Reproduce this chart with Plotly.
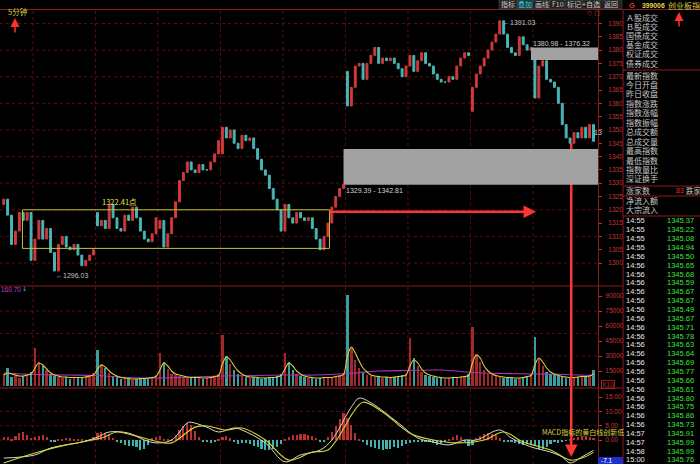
import plotly.graph_objects as go

W, H = 700, 464

# ---------------- data ----------------
# 5-minute index chart, shown here as 16 bars per trading day; first block is a partial day
day_opens = [1322, 1301, 1319, 1313, 1341, 1312, 1372, 1374, 1357, 1376.3]
day_closes = [
    [1324, 1318, 1307, 1312, 1319, 1316, 1319, 1301],
    [1309, 1316, 1309, 1313, 1304, 1297, 1307, 1310, 1306, 1305, 1307, 1303, 1299, 1301, 1303, 1305],
    [1314, 1316, 1313, 1322, 1317, 1313, 1312, 1318, 1316, 1321, 1317, 1312, 1309, 1308, 1311, 1317],
    [1316, 1306, 1311, 1317, 1323, 1331, 1334, 1338, 1335, 1334, 1337, 1335, 1335, 1338, 1341, 1346],
    [1351, 1347, 1350, 1345, 1343, 1348, 1346, 1347, 1343, 1339, 1335, 1333, 1328, 1324, 1320, 1312],
    [1322, 1317, 1315, 1319, 1317, 1316, 1317, 1313, 1309, 1305, 1310, 1315, 1321, 1325, 1328, 1329.4],
    [1359, 1366, 1374, 1375, 1369, 1375, 1378, 1381, 1375, 1377, 1376, 1377, 1375, 1373, 1370, 1374],
    [1378, 1372, 1376, 1379, 1375, 1374, 1371, 1369, 1368, 1368, 1370, 1369, 1374, 1377, 1379, 1378],
    [1366, 1371, 1374, 1377, 1380, 1383, 1386, 1391, 1386, 1381, 1379, 1378, 1385, 1382, 1380, 1381],
    [1362, 1374, 1376, 1369, 1368, 1366, 1360, 1352, 1347, 1345, 1349, 1347, 1351, 1347, 1352, 1345.76],
]
day_volumes = [
    [12000, 18000, 9000, 11000, 8000, 10000, 12000, 14000],
    [38000, 24000, 20000, 16000, 12000, 10000, 9000, 8000, 9000, 7000, 8000, 9000, 8000, 10000, 11000, 13000],
    [36000, 22000, 18000, 13000, 10000, 9000, 7000, 8000, 7000, 6000, 7000, 8000, 7000, 8000, 9000, 11000],
    [33000, 24000, 17000, 12000, 11000, 10000, 9000, 8000, 8000, 9000, 8000, 7000, 8000, 9000, 10000, 12000],
    [51000, 30000, 22000, 16000, 12000, 10000, 9000, 8000, 9000, 8000, 7000, 8000, 9000, 8000, 10000, 12000],
    [33000, 24000, 16000, 12000, 10000, 9000, 8000, 8000, 7000, 8000, 9000, 8000, 9000, 10000, 11000, 13000],
    [91000, 38000, 26000, 18000, 14000, 11000, 10000, 9000, 9000, 8000, 9000, 8000, 9000, 10000, 11000, 12000],
    [48000, 28000, 20000, 14000, 11000, 10000, 9000, 8000, 8000, 7000, 8000, 9000, 8000, 9000, 10000, 12000],
    [59000, 32000, 24000, 16000, 12000, 11000, 10000, 9000, 8000, 9000, 8000, 7000, 8000, 9000, 10000, 12000],
    [49000, 28000, 20000, 14000, 12000, 11000, 10000, 9000, 8000, 9000, 8000, 9000, 10000, 9000, 11000, 16000],
]
day_vol_ma_short = [
    [11000, 13000, 12000, 11000, 10000, 10000, 11000, 12000],
    [18000, 23000, 21000, 17000, 13000, 11000, 10000, 9000, 9000, 8500, 8500, 8500, 8500, 9000, 10000, 11000],
    [17000, 21000, 19000, 15000, 12000, 10000, 8500, 8000, 7500, 7000, 7000, 7500, 7500, 8000, 8500, 9500],
    [16000, 23000, 20000, 15000, 12000, 11000, 10000, 9000, 8500, 8500, 8500, 8000, 8000, 8500, 9500, 10500],
    [22000, 29000, 26000, 20000, 15000, 12000, 10000, 9000, 9000, 8500, 8000, 8000, 8500, 8500, 9000, 10500],
    [17000, 23000, 20000, 15000, 12000, 10000, 9000, 8500, 8000, 8000, 8500, 8500, 8500, 9500, 10000, 11500],
    [30000, 39000, 33000, 25000, 18000, 14000, 11000, 10000, 9500, 9000, 9000, 8500, 9000, 9500, 10000, 11000],
    [20000, 26000, 23000, 17000, 13000, 11000, 10000, 9000, 8500, 8000, 8000, 8500, 8500, 9000, 9500, 10500],
    [23000, 31000, 28000, 20000, 15000, 12000, 10500, 9500, 9000, 8500, 8500, 8000, 8000, 8500, 9500, 10500],
    [21000, 28000, 24000, 18000, 14000, 12000, 10500, 9500, 9000, 8500, 8500, 9000, 9500, 9500, 10000, 12000],
]
vol_ma_long_idx = [0, 8, 16, 24, 32, 40, 48, 56, 64, 72, 80, 88, 96, 104, 112, 120, 128, 136, 144, 151]
vol_ma_long = [13000, 11500, 11000, 10500, 8500, 8000, 9000, 10000, 10500, 11000, 11000, 12500,
               15000, 15500, 16000, 13500, 12500, 12000, 11500, 10500]
day_macd_hist = [
    [1.0, 1.2, 0.4, 1.5, 2.5, 2.8, 1.8, 0.8],
    [1.0, 1.5, 1.7, 1.0, -0.5, -0.7, 0.3, 0.5, 0.8, 0.6, 0.4, 0.3, 0.2, -0.3, 0.4, 1.2],
    [2.4, 2.8, 2.5, 2.0, 0.8, -0.6, -1.2, -1.8, -2.2, -2.0, -2.6, -3.4, -3.0, -1.6, 0.6, 1.2],
    [1.4, 0.3, 0.2, 0.4, 1.8, 3.5, 5.0, 6.0, 5.2, 3.2, 1.2, -0.4, -0.8, -1.0, -0.6, 0.3],
    [1.2, 1.5, 0.6, -0.8, -1.5, -1.2, -1.0, -1.4, -2.0, -2.6, -3.0, -3.4, -3.5, -3.2, -2.6, -1.5],
    [0.5, 1.2, 1.6, 1.8, 2.0, 2.0, 1.8, 1.5, 0.8, -0.6, -0.8, 1.0, 2.8, 5.0, 7.5, 9.3],
    [7.8, 5.2, 2.6, 0.4, -0.8, -1.6, -2.4, -2.8, -3.2, -3.5, -3.3, -3.0, -2.6, -2.8, -2.2, -1.5],
    [-1.0, -0.6, -0.4, -0.5, -0.8, -0.6, -1.2, -1.6, -1.5, -0.8, 0.5, 1.2, 1.6, 1.0, -0.5, -2.0],
    [-1.6, 0.8, 1.5, 2.0, 2.4, 2.2, 1.6, 0.6, -0.4, -0.6, -0.8, -1.0, -1.4, -1.6, -1.3, -1.5],
    [-2.2, -3.0, -3.2, -2.6, -1.4, -0.8, -1.0, -0.6, -0.3, 0.3, 0.8, 1.2, 1.5, 1.4, 1.0, 0.8],
]
dif_idx = [0, 8, 12, 20, 24, 27, 32, 36, 39, 43, 47, 48, 52, 55, 59, 61, 67, 72, 76, 81, 84,
           89, 91, 94, 101, 106, 110, 114, 118, 121, 127, 130, 135, 140, 143, 145, 148, 151]
dif_val = [-6.3, -5.2, -2.8, -0.7, 1.0, 2.8, 2.4, 0.0, -1.0, 0.0, 6.0, 6.2, 4.5, 2.8, 4.2, 3.5, -1.0,
           -7.6, -5.2, -3.5, 0.0, 11.5, 14.6, 13.0, 6.0, 0.7, -0.7, -1.7, 0.0, 0.0, 3.5, 0.7,
           -2.4, -4.2, -5.9, -8.0, -5.9, -3.6]
dea_idx = [0, 8, 16, 25, 29, 33, 40, 43, 49, 52, 57, 61, 67, 73, 79, 83, 88, 89, 92, 97, 104,
           110, 116, 123, 128, 133, 140, 145, 148, 151]
dea_val = [-8.0, -4.5, -1.7, 0.7, 2.8, 1.7, -0.7, -1.0, 4.5, 4.9, 3.5, 4.2, 0.0, -7.0, -4.2, -3.5,
           6.3, 8.7, 13.2, 9.8, 2.4, 0.0, -1.0, 0.0, 2.8, -0.7, -3.5, -7.0, -6.3, -4.3]

price_ticks = list(range(1300, 1391, 5))
price_grid = list(range(1300, 1391, 10))
vol_ticks = [15000, 30000, 45000, 60000, 75000, 90000]
vol_grid = [30000, 52500, 75000]
macd_ticks = [0, 5, 10, 15]
macd_grid = [0, 5, 10]

# on-chart marks drawn by the user
box_range = (1305.5, 1320.0)          # yellow consolidation box (price)
box_bars = (4.8, 83.4)                # yellow box span (bar index)
gap_high = (1376.32, 1380.98)         # upper gap
gap_low = (1329.39, 1342.81)          # lower gap
gap_high_bar, gap_low_bar = 135, 87
arrow_level = 1319.3
arrow_bars = (83.4, 136.3)
drop_bar = 145.3

panel_labels_1 = ["Ａ股成交", "Ｂ股成交", "国债成交", "基金成交", "权证成交", "债券成交"]
panel_labels_2 = ["最新指数", "今日开盘", "昨日收盘", "指数涨跌", "指数涨幅", "指数振幅",
                  "总成交额", "总成交量", "最高指数", "最低指数", "指数量比", "深证换手"]
tick_times = ["14:55", "14:55", "14:55", "14:55", "14:56", "14:56", "14:56", "14:56", "14:56",
              "14:56", "14:56", "14:56", "14:56", "14:56", "14:56", "14:56", "14:56", "14:56",
              "14:56", "14:56", "14:56", "14:56", "14:56", "14:56", "14:57", "14:57", "14:58", "15:00"]
tick_prices = ["1345.37", "1345.22", "1345.08", "1344.94", "1345.50", "1345.65", "1345.68",
               "1345.59", "1345.67", "1345.67", "1345.49", "1345.67", "1345.71", "1345.78",
               "1345.63", "1345.64", "1345.69", "1345.77", "1345.66", "1345.61", "1345.80",
               "1345.75", "1345.86", "1345.73", "1345.91", "1345.99", "1345.99", "1345.76"]
toolbar = ["指标", "叠加", "画线", "F10", "标记", "+自选", "返回"]
toolbar_edges = [499, 517, 533, 550, 565, 582, 600, 622]

# ---------------- derived series ----------------
closes, opens, vols, vma, hist, day_starts = [], [], [], [], [], []
for d, cl in enumerate(day_closes):
    day_starts.append(len(closes))
    for j, c in enumerate(cl):
        opens.append(day_opens[d] if j == 0 else closes[-1])
        closes.append(c)
    vols += day_volumes[d]
    vma += day_vol_ma_short[d]
    hist += day_macd_hist[d]
N = len(closes)
idx = list(range(N))
highs = [max(o, c) for o, c in zip(opens, closes)]
lows = [min(o, c) for o, c in zip(opens, closes)]

RED, TEAL = "#d03a3a", "#48b6b6"
VRED, VTEAL = "#a02a2a", "#3a9e9e"
GRID = "#5e0c0c"
FRAME = "#8a1a1a"
AXC = "#c83434"
NUM = "Liberation Sans, Arial, sans-serif"
CJK = "Noto Sans CJK SC, sans-serif"

X0, X1 = -0.95, 152.15
PR = (1291.75, 1395.25)
VR = (-2000, 100000)
MR = (-8.36, 17.8)


def px(x):
    return x / W


def py(y):
    return 1 - y / H


fig = go.Figure()
fig.add_trace(go.Candlestick(
    x=idx, open=opens, high=highs, low=lows, close=closes,
    increasing=dict(line=dict(color=RED, width=1), fillcolor=RED),
    decreasing=dict(line=dict(color=TEAL, width=1), fillcolor=TEAL),
    whiskerwidth=0, xaxis="x", yaxis="y", hoverinfo="skip"))

vcol = [VRED if c >= o else VTEAL for o, c in zip(opens, closes)]
fig.add_trace(go.Bar(x=idx, y=vols, marker=dict(color=vcol, line=dict(width=0)), width=0.62,
                     xaxis="x", yaxis="y2", hoverinfo="skip"))
fig.add_trace(go.Scatter(x=vol_ma_long_idx, y=vol_ma_long, mode="lines", line=dict(color="#b030b8", width=1.1, shape="spline"),
                         xaxis="x", yaxis="y2", hoverinfo="skip"))
fig.add_trace(go.Scatter(x=idx, y=vma, mode="lines", line=dict(color="#d2d23c", width=1.1, shape="spline"),
                         xaxis="x", yaxis="y2", hoverinfo="skip"))

hcol = ["#b83232" if v >= 0 else "#40b2b2" for v in hist]
fig.add_trace(go.Bar(x=idx, y=hist, marker=dict(color=hcol, line=dict(width=0)), width=0.55,
                     xaxis="x", yaxis="y3", hoverinfo="skip"))
fig.add_trace(go.Scatter(x=dif_idx, y=dif_val, mode="lines", line=dict(color="#d8d8d8", width=1, shape="spline"),
                         xaxis="x", yaxis="y3", hoverinfo="skip"))
fig.add_trace(go.Scatter(x=dea_idx, y=dea_val, mode="lines", line=dict(color="#d6d62e", width=1.1, shape="spline"),
                         xaxis="x", yaxis="y3", hoverinfo="skip"))

shapes = []
# grids
for d in day_starts[1:]:
    shapes.append(dict(type="line", xref="x", yref="paper", x0=d - 0.5, x1=d - 0.5, y0=0, y1=py(10),
                       line=dict(color=GRID, width=1, dash="dot"), layer="below"))
for g in price_grid:
    shapes.append(dict(type="line", xref="paper", yref="y", x0=0, x1=px(598), y0=g, y1=g,
                       line=dict(color=GRID, width=1, dash="dot"), layer="below"))
for g in vol_grid:
    shapes.append(dict(type="line", xref="paper", yref="y2", x0=0, x1=px(598), y0=g, y1=g,
                       line=dict(color=GRID, width=1, dash="dot"), layer="below"))
for g in macd_grid:
    shapes.append(dict(type="line", xref="paper", yref="y3", x0=0, x1=px(598), y0=g, y1=g,
                       line=dict(color=GRID, width=1, dash="dot"), layer="below"))
# frame
for y in (286, 388):
    shapes.append(dict(type="line", xref="paper", yref="paper", x0=0, x1=px(623), y0=py(y), y1=py(y),
                       line=dict(color=FRAME, width=1)))
shapes.append(dict(type="line", xref="paper", yref="paper", x0=0, x1=1, y0=py(9.5), y1=py(9.5),
                   line=dict(color=FRAME, width=1)))
for x in (598.5, 623):
    shapes.append(dict(type="line", xref="paper", yref="paper", x0=px(x), x1=px(x), y0=0, y1=py(9.5),
                       line=dict(color=FRAME, width=1)))
for y in (70, 186, 196, 216):
    shapes.append(dict(type="line", xref="paper", yref="paper", x0=px(623), x1=1, y0=py(y), y1=py(y),
                       line=dict(color=FRAME, width=1)))
# toolbar buttons
for i, t in enumerate(toolbar):
    shapes.append(dict(type="rect", xref="paper", yref="paper", x0=px(toolbar_edges[i]), x1=px(toolbar_edges[i + 1]),
                       y0=py(9), y1=1, fillcolor="#123c44" if t == "叠加" else "#222222",
                       line=dict(color="#4a4a4a", width=0.6)))
# drawn marks
shapes.append(dict(type="rect", xref="x", yref="y", x0=box_bars[0], x1=box_bars[1], y0=box_range[0], y1=box_range[1],
                   line=dict(color="#c4c43a", width=1)))
shapes.append(dict(type="line", xref="x", yref="y", x0=arrow_bars[0], x1=arrow_bars[1] - 2.5,
                   y0=arrow_level, y1=arrow_level, line=dict(color="#ff3434", width=2.5)))
shapes.append(dict(type="line", xref="x", yref="paper", x0=drop_bar, x1=drop_bar, y0=py(143), y1=py(448),
                   line=dict(color="#ff3434", width=2.5)))
shapes.append(dict(type="rect", xref="x", yref="y", x0=gap_high_bar, x1=X1, y0=gap_high[0], y1=gap_high[1],
                   fillcolor="#a2a2a2", line=dict(width=0)))
shapes.append(dict(type="rect", xref="x", yref="y", x0=gap_low_bar, x1=X1, y0=gap_low[0], y1=gap_low[1],
                   fillcolor="#a2a2a2", line=dict(width=0)))
shapes.append(dict(type="rect", xref="paper", yref="paper", x0=px(598), x1=px(623), y0=0, y1=py(457),
                   fillcolor="#1a30c8", line=dict(width=0)))

ann = []


def txt(x, y, s, color, size, font=NUM, xanchor="left", xref="paper", yref="paper", **kw):
    ann.append(dict(x=x, y=y, xref=xref, yref=yref, text=s, showarrow=False, xanchor=xanchor,
                    yanchor="middle", font=dict(color=color, size=size, family=font), borderpad=0, **kw))


# toolbar text
for i, t in enumerate(toolbar):
    txt(px((toolbar_edges[i] + toolbar_edges[i + 1]) / 2), py(4.5), t,
        "#48d4d8" if t == "叠加" else "#c8c8c8", 7, font=CJK, xanchor="center")
txt(px(628), py(5), "<b>G</b>", "#e03030", 7.5)
txt(px(641), py(5), "<b>399006</b>", "#e8d84a", 6.8)
txt(px(667), py(5.5), "创业板指", "#d8c848", 8, font=CJK)
txt(px(7), py(11.5), "5分钟", "#d8d24a", 7.5, font=CJK)
txt(px(586), py(13.5), "◇ □", "#c83030", 6.5, font="DejaVu Sans")
txt(px(0), py(289), "160.70", "#c040c0", 6.5)
txt(px(21), py(288), "↓", "#40c8c8", 6, font="DejaVu Sans")
txt(px(601), py(384), "X10", "#c03030", 6.5, bordercolor="#a02020", borderwidth=1)
txt(px(600), py(460.5), "-7.1", "#ffffff", 6.5)

# right information panel
for k, s in enumerate(panel_labels_1):
    txt(px(625), py(17 + 9.2 * k), s, "#c8c8c8", 8, font=CJK)
for k, s in enumerate(panel_labels_2):
    txt(px(625), py(75 + 9.45 * k), s, "#c8c8c8", 8, font=CJK)
txt(px(625), py(190.5), "涨家数", "#c8c8c8", 8, font=CJK)
txt(px(675), py(190.5), "83", "#e03030", 7)
txt(px(685), py(190.5), "跌家", "#c8c8c8", 7.5, font=CJK)
txt(px(625), py(200.5), "净流入额", "#c8c8c8", 8, font=CJK)
txt(px(625), py(209.5), "大宗流入", "#c8c8c8", 8, font=CJK)
for k, (t, p) in enumerate(zip(tick_times, tick_prices)):
    y = py(221 + 8.85 * k)
    txt(px(625), y, t, "#e4e4e4", 7.5)
    txt(px(695), y, p, "#3ce43c", 7.5, xanchor="right")

# on-chart labels
txt(24.9, 1323.3, "1322.41点", "#e6e64a", 7.5, font=CJK, xref="x", yref="y")
txt(13.1, 1295.5, "←1296.03", "#c0c0c0", 7, xref="x", yref="y")
txt(127.6, 1390.4, "←1391.03", "#c0c0c0", 7, xref="x", yref="y")
txt(135.3, 1382.6, "1380.98 - 1376.32", "#d0d0d0", 7, xref="x", yref="y")
txt(87.4, 1327.4, "1329.39 - 1342.81", "#d0d0d0", 7, xref="x", yref="y")
txt(150.9, 1349.1, "13", "#d0d0d0", 7, xref="x", yref="y")
txt(px(541), py(432), "MACD指标的黄白线创新低", "#d8d040", 7, font=CJK)

# arrows
ann.append(dict(x=arrow_bars[1], y=arrow_level, xref="x", yref="y", ax=-11, ay=0, text="", showarrow=True,
                arrowhead=2, arrowsize=1, arrowwidth=2.5, arrowcolor="#ff3434"))
ann.append(dict(x=drop_bar, y=py(457), xref="x", yref="paper", ax=0, ay=-11, text="", showarrow=True,
                arrowhead=2, arrowsize=1, arrowwidth=2.5, arrowcolor="#ff3434"))
ann.append(dict(x=px(15), y=py(18), xref="paper", yref="paper", ax=0, ay=16, text="", showarrow=True,
                arrowhead=2, arrowsize=1.2, arrowwidth=1.5, arrowcolor="#ff3030"))
ann.append(dict(x=px(679), y=py(12), xref="paper", yref="paper", ax=0, ay=16, text="", showarrow=True,
                arrowhead=2, arrowsize=1.2, arrowwidth=1.5, arrowcolor="#ff3030"))

axis_common = dict(anchor="x", side="right", ticks="outside", ticklen=3, tickcolor=AXC, tickwidth=1,
                   tickfont=dict(color=AXC, size=6.5, family=NUM), showgrid=False, zeroline=False,
                   showline=False, fixedrange=True)

fig.update_layout(
    width=W, height=H, margin=dict(l=0, r=0, t=0, b=0),
    paper_bgcolor="#000000", plot_bgcolor="#000000", showlegend=False, bargap=0,
    xaxis=dict(domain=[0, px(598)], range=[X0, X1], visible=False, rangeslider=dict(visible=False),
               fixedrange=True),
    yaxis=dict(domain=[py(285), py(9.5)], range=list(PR), tickvals=price_ticks, tickformat="d",
               ticklabelstandoff=5, **axis_common),
    yaxis2=dict(domain=[py(388), py(286)], range=list(VR), tickvals=vol_ticks, tickformat="d",
                ticklabelstandoff=2, **axis_common),
    yaxis3=dict(domain=[0, py(389)], range=list(MR), tickvals=macd_ticks, tickformat=".2f",
                ticklabelstandoff=2, **axis_common),
    shapes=shapes, annotations=ann,
)

fig.write_html("out.html", config={"displayModeBar": False},
               post_script="document.body.style.margin='0';document.body.style.padding='0';"
                           "document.body.style.background='#000';")
